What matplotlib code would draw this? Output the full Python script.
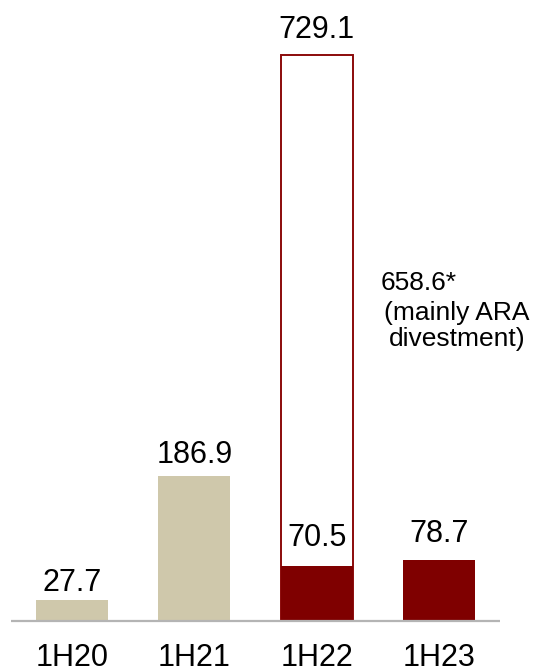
import matplotlib.pyplot as plt

plt.rcParams['font.family'] = ['Liberation Sans', 'DejaVu Sans']

# data
periods = ['1H20', '1H21', '1H22', '1H23']
values = [27.7, 186.9, 70.5, 78.7]
colors = ['#CFC8AB', '#CFC8AB', '#7F0000', '#7F0000']
total_1h22 = 729.1
one_off = 658.6
one_off_label = '658.6*'
one_off_note = '(mainly ARA\ndivestment)'

# label gaps above bar tops, in pixels
label_gap = [9, 13, 20, 18]

fig = plt.figure(figsize=(5.33, 6.72), dpi=100)
ax = fig.add_axes([0, 0, 1, 1])
ax.set_xlim(-0.589, 3.769)
ax.set_ylim(-65.7, 800.3)
ax.axis('off')

x = range(len(periods))
w = 0.59

# 1H22 total incl. one-off (outline only)
ax.bar(2, total_1h22, width=w, facecolor='white', edgecolor='#8B0A0A', linewidth=1.4, zorder=1)
ax.bar(x, values, width=w, color=colors, zorder=2)

ax.plot([-0.5, 3.5], [0, 0], color='#B4B4B4', lw=1.6, zorder=3, solid_capstyle='butt')

for i, v in enumerate(values):
    ax.annotate(f'{v:.1f}', (i, v), xytext=(0, label_gap[i] * 0.72), textcoords='offset points',
                ha='center', va='baseline', fontsize=22)
    ax.text(i, -48, periods[i], ha='center', va='center', fontsize=22)

ax.annotate(f'{total_1h22:.1f}', (2, total_1h22), xytext=(0, 17 * 0.72), textcoords='offset points',
            ha='center', va='baseline', fontsize=22)

ax.text(2.52, 436, one_off_label, ha='left', va='center', fontsize=19)
ax.text(3.148, 380, one_off_note, ha='center', va='center', fontsize=19, linespacing=1.1)

fig.savefig('out.png', dpi=100)
